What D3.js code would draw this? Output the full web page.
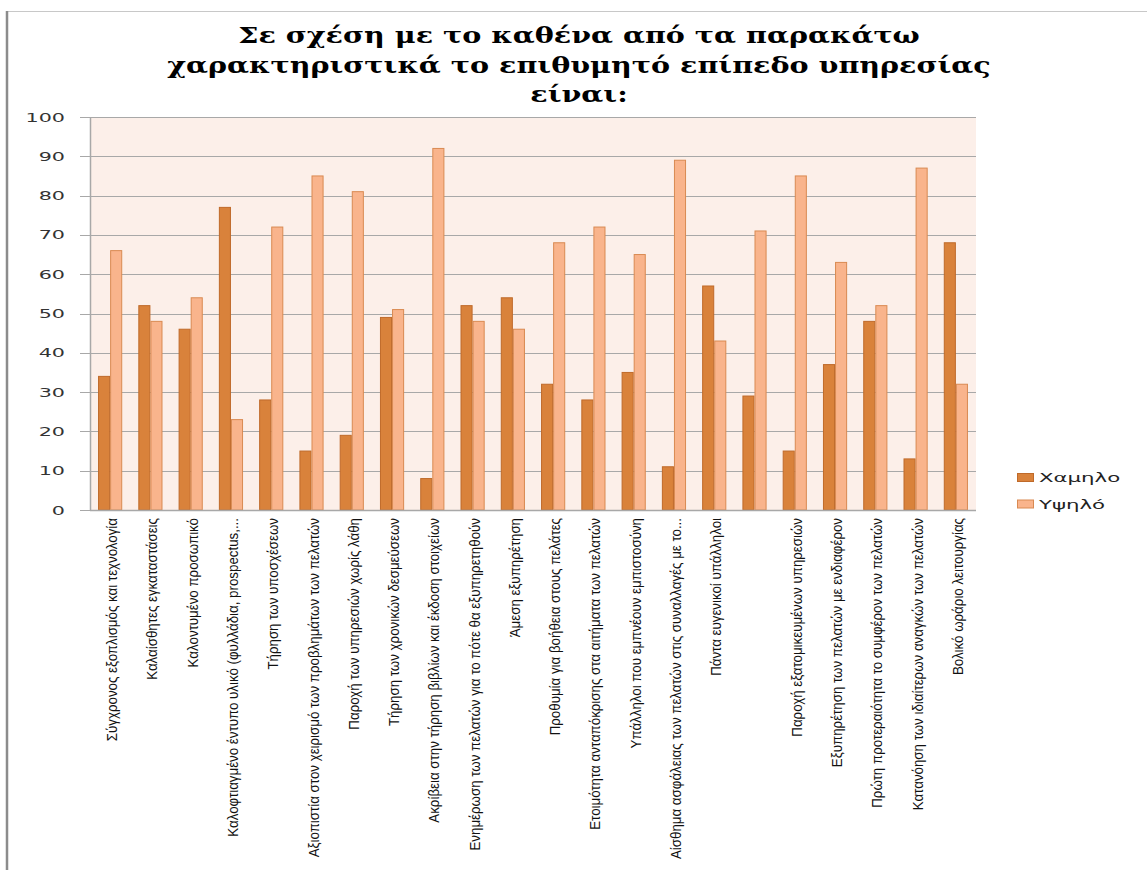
<!DOCTYPE html>
<html>
<head>
<meta charset="utf-8">
<script src="https://cdn.jsdelivr.net/npm/d3@7"></script>
<style>
  html, body { margin: 0; padding: 0; background: #ffffff; }
  svg { display: block; }
  .title { font-family: "DejaVu Serif", "Liberation Serif", serif; font-weight: bold; }
</style>
</head>
<body>
<svg id="chart" width="1147" height="870"></svg>
<script>
// Characteristics rated for the desired service level
const categories = [
  "Σύγχρονος εξοπλισμός και τεχνολογία",
  "Καλαίσθητες εγκαταστάσεις",
  "Καλοντυμένο προσωπικό",
  "Καλοφτιαγμένο έντυπο υλικό (φυλλάδια, prospectus,...",
  "Τήρηση των υποσχέσεων",
  "Αξιοπιστία στον χειρισμό των προβλημάτων των πελατών",
  "Παροχή των υπηρεσιών χωρίς λάθη",
  "Τήρηση των χρονικών δεσμεύσεων",
  "Ακρίβεια στην τήρηση βιβλίων και έκδοση στοιχείων",
  "Ενημέρωση των πελατών για το πότε θα εξυπηρετηθούν",
  "Άμεση εξυπηρέτηση",
  "Προθυμία για βοήθεια στους πελάτες",
  "Ετοιμότητα ανταπόκρισης στα αιτήματα των πελατών",
  "Υπάλληλοι που εμπνέουν εμπιστοσύνη",
  "Αίσθημα ασφάλειας των πελατών στις συναλλαγές με το...",
  "Πάντα ευγενικοί υπάλληλοι",
  "",
  "Παροχή εξατομικευμένων υπηρεσιών",
  "Εξυπηρέτηση των πελατών με ενδιαφέρον",
  "Πρώτη προτεραιότητα το συμφέρον των πελατών",
  "Κατανόηση των ιδιαίτερων αναγκών των πελατών",
  "Βολικό ωράριο λειτουργίας"
];
const seriesNames = ["Χαμηλο", "Υψηλό"];
const lowValues  = [34, 52, 46, 77, 28, 15, 19, 49,  8, 52, 54, 32, 28, 35, 11, 57, 29, 15, 37, 48, 13, 68];
const highValues = [66, 48, 54, 23, 72, 85, 81, 51, 92, 48, 46, 68, 72, 65, 89, 43, 71, 85, 63, 52, 87, 32];
const yTicks = [0, 10, 20, 30, 40, 50, 60, 70, 80, 90, 100];
const titleLines = [
  "Σε σχέση με το καθένα από τα παρακάτω",
  "χαρακτηριστικά το επιθυμητό επίπεδο υπηρεσίας",
  "είναι:"
];

const colors = ["#d9823b", "#f9b48c"];
const strokes = ["#bf6a2a", "#d98a52"];

const svg = d3.select("#chart");
const plot = { left: 90, right: 976, top: 117, bottom: 510 };
const stretch = 1.7; // horizontal glyph stretch used by the axis and legend text

// chart frame
svg.append("line").attr("x1", 7).attr("x2", 1147).attr("y1", 11.5).attr("y2", 11.5)
  .attr("stroke", "#c8c8c8").attr("stroke-width", 1.2);
svg.append("line").attr("x1", 7).attr("x2", 7).attr("y1", 11).attr("y2", 870)
  .attr("stroke", "#8c8c8c").attr("stroke-width", 2.5);

// title
const titleG = svg.append("g");
titleLines.forEach((t, i) => {
  titleG.append("text")
    .attr("class", "title")
    .attr("transform", `translate(579, ${43 + i * 29.5}) scale(1.3, 1)`)
    .attr("text-anchor", "middle")
    .attr("font-size", 22)
    .attr("fill", "#000")
    .text(t);
});

// scales
const x = d3.scaleBand().domain(d3.range(categories.length))
  .range([plot.left, plot.right]).paddingInner(0.4).paddingOuter(0.2);
const xs = d3.scaleBand().domain([0, 1]).range([0, x.bandwidth()]);
const y = d3.scaleLinear().domain([0, 100]).range([plot.bottom, plot.top]);

// plot background
svg.append("rect").attr("x", plot.left).attr("y", plot.top)
  .attr("width", plot.right - plot.left).attr("height", plot.bottom - plot.top)
  .attr("fill", "#fcefe9");

// gridlines with tick stubs
svg.append("g").selectAll("line").data(yTicks).join("line")
  .attr("x1", plot.left - 10).attr("x2", plot.right)
  .attr("y1", d => Math.round(y(d)) + 0.5).attr("y2", d => Math.round(y(d)) + 0.5)
  .attr("stroke", "#a8a8a8").attr("stroke-width", 1);

// y axis line
svg.append("line").attr("x1", plot.left + 0.5).attr("x2", plot.left + 0.5)
  .attr("y1", plot.top).attr("y2", plot.bottom)
  .attr("stroke", "#a8a8a8").attr("stroke-width", 1.5);

// y tick labels
svg.append("g").selectAll("text").data(yTicks).join("text")
  .attr("transform", d => `translate(65, ${y(d) + 4.5}) scale(${stretch + 0.1}, 1)`)
  .attr("text-anchor", "end")
  .attr("font-family", "DejaVu Sans, sans-serif")
  .attr("font-size", 11.5)
  .attr("fill", "#333")
  .text(d => d);

// bars
const series = [lowValues, highValues];
const barG = svg.append("g");
series.forEach((vals, s) => {
  barG.append("g").selectAll("rect").data(vals).join("rect")
    .attr("x", (d, i) => x(i) + xs(s) + 0.5)
    .attr("y", d => y(d))
    .attr("width", xs.bandwidth() - 1)
    .attr("height", d => y(0) - y(d))
    .attr("fill", colors[s])
    .attr("stroke", strokes[s])
    .attr("stroke-width", 1);
});

// x axis line
svg.append("line").attr("x1", plot.left).attr("x2", plot.right)
  .attr("y1", plot.bottom + 0.5).attr("y2", plot.bottom + 0.5)
  .attr("stroke", "#a8a8a8").attr("stroke-width", 1.5);

// category labels, rotated
svg.append("g").selectAll("text").data(categories).join("text")
  .attr("transform", (d, i) => `translate(${x(i) + x.bandwidth() / 2 + 7}, 518) rotate(-90) scale(1.11, 1.15)`)
  .attr("text-anchor", "end")
  .attr("font-family", "Liberation Sans, Arial, sans-serif")
  .attr("font-size", 12)
  .attr("fill", "#111")
  .text(d => d);

// legend
const legend = svg.append("g");
seriesNames.forEach((name, i) => {
  const ly = 473 + i * 26.5;
  legend.append("rect").attr("x", 1017.5).attr("y", ly + 0.5).attr("width", 16).attr("height", 8)
    .attr("fill", colors[i]).attr("stroke", strokes[i]).attr("stroke-width", 1);
  legend.append("text")
    .attr("transform", `translate(1039, ${ly + 9}) scale(${stretch + 0.15}, 1)`)
    .attr("font-family", "DejaVu Sans, sans-serif")
    .attr("font-size", 11.5)
    .attr("fill", "#222")
    .text(name);
});
</script>
</body>
</html>
